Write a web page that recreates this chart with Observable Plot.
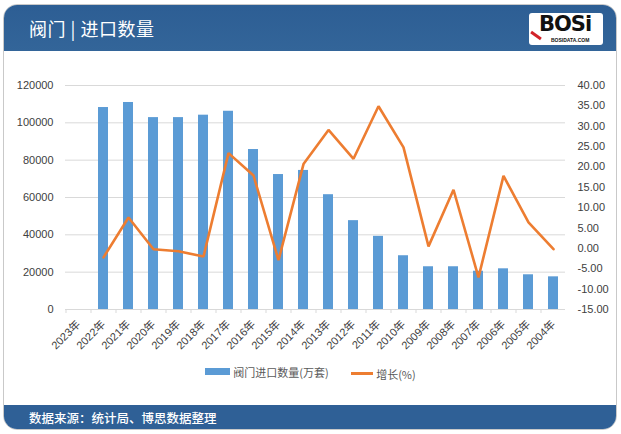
<!DOCTYPE html>
<html>
<head>
<meta charset="utf-8">
<script src="https://cdn.jsdelivr.net/npm/d3@7"></script>
<script src="https://cdn.jsdelivr.net/npm/@observablehq/plot@0.6"></script>
<style>
  html, body { margin: 0; padding: 0; background: #fff; }
  body { width: 621px; height: 434px; position: relative; overflow: hidden;
         font-family: "Liberation Sans", "Noto Sans CJK SC", sans-serif; }
  #card { position: absolute; left: 3px; top: 4px; width: 612px; height: 424px;
          border: 1px solid #c9c9c9; border-radius: 14px; overflow: hidden; background: #fff; }
  #header { position: absolute; left: 0; top: 0; width: 100%; height: 46px;
            background: linear-gradient(#2d5e94, #336599); }
  #title { position: absolute; left: 25px; top: 10px; color: #fff; font-size: 18px;
           font-family: "Noto Sans CJK SC", sans-serif; letter-spacing: 0.5px; }
  #logo { position: absolute; left: 525px; top: 8px; width: 74px; height: 32px; background: #fff;
          border-radius: 3px; overflow: hidden; }
  #logo .big { position: absolute; left: 10px; top: 0px; line-height: 23px; font: 900 21px/23px "DejaVu Sans", sans-serif;
               color: #111; letter-spacing: -1px; }
  #logo .small { position: absolute; left: 22px; top: 24px; font: bold 5px/6px "Liberation Sans", sans-serif; color: #111; }
  #logo .stripe { position: absolute; left: 1px; top: 21px; width: 12px; height: 3px; background: #d2232a; transform: rotate(35deg); }
  #footer { position: absolute; left: 0; bottom: 0; width: 100%; height: 24px; background: #2f6096; }
  #source { position: absolute; left: 25px; top: 3px; color: #fff; font-size: 12.5px;
            font-family: "Noto Sans CJK SC", sans-serif; font-weight: 500; }
  #chart { position: absolute; left: 0; top: 60px; }
  #legend { position: absolute; left: 0; top: 362px; width: 621px; text-align: center;
            font-size: 11px; color: #595959; font-family: "Noto Sans CJK SC", sans-serif; }
  #legend span.item { display: inline-flex; align-items: center; margin: 0 10px; }
  #legend .sw { display: inline-block; margin-right: 3px; }
</style>
</head>
<body>
<div id="card">
  <div id="header">
    <div id="title">阀门 | 进口数量</div>
    <div id="logo"><div class="stripe"></div><div class="big">BOSi</div><div class="small">BOSIDATA.COM</div></div>
  </div>
  <div id="footer"><div id="source">数据来源：统计局、博思数据整理</div></div>
</div>
<div id="chart"></div>
<div id="legend">
  <span class="item"><span class="sw" style="width:25px;height:7px;background:#5B9BD5"></span>阀门进口数量(万套)</span>
  <span class="item"><span class="sw" style="width:22px;height:3px;background:#ED7D31"></span>增长(%)</span>
</div>
<script>
const years = ["2023年","2022年","2021年","2020年","2019年","2018年","2017年","2016年","2015年","2014年",
               "2013年","2012年","2011年","2010年","2009年","2008年","2007年","2006年","2005年","2004年"];
const imports = [null, 108200, 110900, 102800, 102800, 104100, 106200, 85700, 72300, 74500,
                 61500, 47600, 39200, 28800, 22900, 22900, 20500, 21800, 18600, 17500];
const growth = [null, -2.2, 7.6, -0.2, -0.7, -2.0, 23.4, 17.9, -2.9, 20.7,
                29.1, 22.0, 34.9, 24.8, 0.5, 14.4, -7.1, 17.8, 6.4, -0.2];
const leftTicks = [0, 20000, 40000, 60000, 80000, 100000, 120000];
const rightTicks = [-15, -10, -5, 0, 5, 10, 15, 20, 25, 30, 35, 40];

const leftMax = 120000, rMin = -15, rMax = 40;
const toLeft = g => (g - rMin) / (rMax - rMin) * leftMax;

const data = years.map((y, i) => ({year: y, imports: imports[i], growth: growth[i],
  growthScaled: growth[i] == null ? null : toLeft(growth[i])}));
const rightMap = new Map(rightTicks.map(g => [toLeft(g), g]));

const chart = Plot.plot({
  width: 621,
  height: 310,
  marginTop: 25,
  marginBottom: 61,
  marginLeft: 65,
  marginRight: 56,
  style: {fontFamily: '"Liberation Sans", "Noto Sans CJK SC", sans-serif', fontSize: "11px", color: "#595959", background: "transparent"},
  x: {type: "band", domain: years, paddingInner: 0.62, paddingOuter: 0.31, label: null},
  y: {domain: [0, leftMax], label: null},
  marks: [
    Plot.gridY(leftTicks, {stroke: "#d9d9d9", strokeOpacity: 1}),
    Plot.axisX({tickSize: 4, tickFormat: () => "", dx: -12.5, stroke: "#d9d9d9", label: null}),
    Plot.ruleY([0], {stroke: "#d9d9d9"}),
    Plot.barY(data.filter(d => d.imports != null), {x: "year", y: "imports", fill: "#5B9BD5"}),
    Plot.lineY(data.filter(d => d.growth != null), {x: "year", y: "growthScaled", stroke: "#ED7D31", strokeWidth: 2.6, strokeLinejoin: "miter"}),
    Plot.axisY(leftTicks, {anchor: "left", tickSize: 0, tickPadding: 12, tickFormat: d3.format("d"), label: null, fill: "#404040"}),
    Plot.axisY(rightTicks.map(toLeft), {anchor: "right", tickSize: 0, tickPadding: 12,
      tickFormat: v => { const g = rightMap.get(v); return (g < 0 ? "-" : "") + Math.abs(g).toFixed(2); }, label: null, fill: "#404040"}),
    Plot.axisX({tickRotate: -45, tickSize: 0, tickPadding: 13, label: null, fill: "#404040"})
  ]
});
document.getElementById("chart").appendChild(chart);
</script>
</body>
</html>
